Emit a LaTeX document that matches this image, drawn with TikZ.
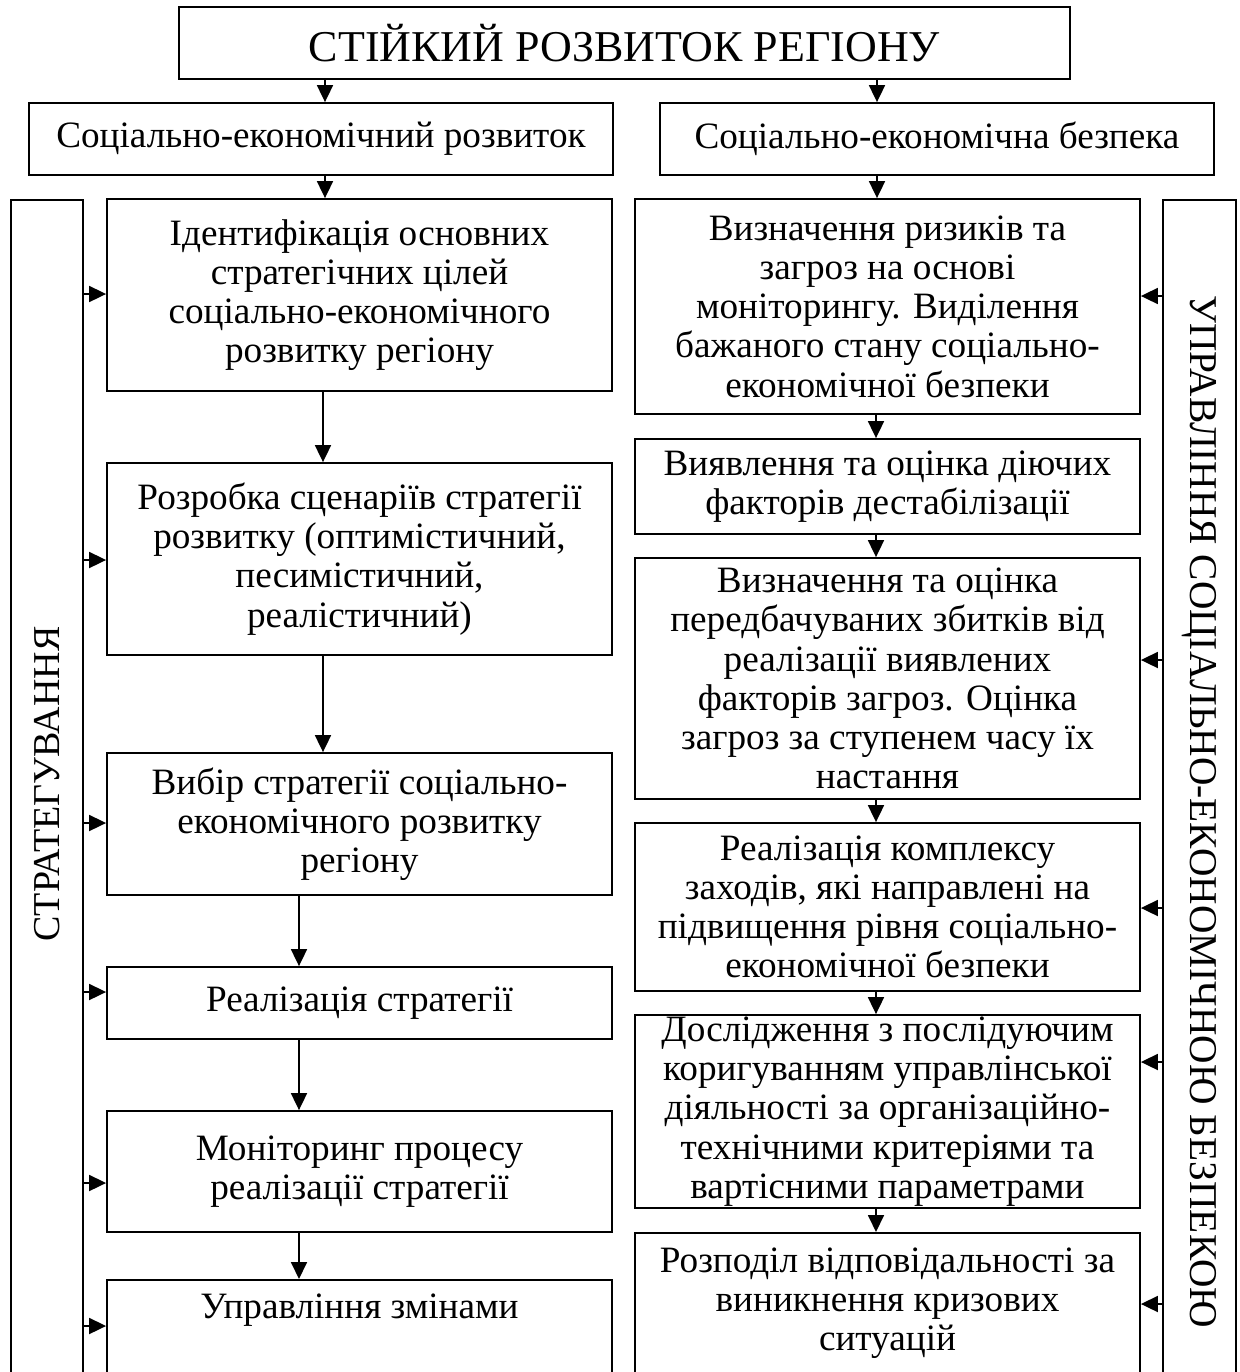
\documentclass[tikz,border=0pt]{standalone}
\usepackage{fontspec}
\setmainfont{Liberation Serif}
\usetikzlibrary{arrows.meta}
\begin{document}
\begin{tikzpicture}[x=0.5pt,y=-0.5pt,
  box/.style={draw,line width=0.9pt,inner sep=0pt,align=center,
    font=\fontsize{18.6}{19.6}\selectfont},
  lbox/.style={box,minimum width=252.5pt},
  arr/.style={line width=0.9pt,-{Triangle[length=8.5pt,width=8pt]}},
  txt/.style={font=\fontsize{18.6}{19.6}\selectfont,align=center,inner sep=0pt}]
\useasboundingbox (0,0) rectangle (1240,1372);
\clip (0,0) rectangle (1240,1372);
% top
\node[box,minimum width=445.5pt,minimum height=36pt,font=\fontsize{22}{24}\selectfont] (top) at (624.5,43) {СТІЙКИЙ РОЗВИТОК РЕГІОНУ};
\node[box,minimum width=292pt,minimum height=36pt] (socL) at (321,139) {Соціально-економічний розвиток};
\node[box,minimum width=277pt,minimum height=36pt] (socR) at (937,139) {Соціально-економічна безпека};
% side columns
\node[box,minimum width=36pt,minimum height=620.5pt,anchor=north] (lcol) at (47,199) {};
\node[box,minimum width=36.5pt,minimum height=620.5pt,anchor=north] (rcol) at (1199.5,199) {};
\node[txt,rotate=90,font=\fontsize{19}{20}\selectfont] (ltxt) at (47,784) {СТРАТЕГУВАННЯ};
\node[txt,rotate=-90,font=\fontsize{19.7}{20}\selectfont] (rtxt) at (1199.5,812) {УПРАВЛІННЯ СОЦІАЛЬНО-ЕКОНОМІЧНОЮ БЕЗПЕКОЮ};
% left column
\node[lbox,minimum height=96pt] (ident) at (359.5,295) {Ідентифікація основних\\стратегічних цілей\\соціально-економічного\\розвитку регіону};
\node[lbox,minimum height=96pt] (rozr) at (359.5,559) {Розробка сценаріїв стратегії\\розвитку (оптимістичний,\\песимістичний,\\реалістичний)};
\node[lbox,minimum height=71pt] (vybir) at (359.5,824) {Вибір стратегії соціально-\\економічного розвитку\\регіону};
\node[lbox,minimum height=36pt] (real) at (359.5,1003) {Реалізація стратегії};
\node[lbox,minimum height=60.5pt] (moni) at (359.5,1171.5) {Моніторинг процесу\\реалізації стратегії};
\node[lbox,minimum height=80.5pt,anchor=north] (upr) at (359.5,1279) {};
\node[txt] (uprtxt) at (359.5,1310) {Управління змінами};
% right column
\node[lbox,minimum height=107.5pt] (vyzn) at (887.5,306.5) {Визначення ризиків та\\загроз на основі\\моніторингу. Виділення\\бажаного стану соціально-\\економічної безпеки};
\node[lbox,minimum height=47.5pt] (viyav) at (887.5,486.5) {Виявлення та оцінка діючих\\факторів дестабілізації};
\node[lbox,minimum height=120.5pt] (vyzn2) at (887.5,678.5) {Визначення та оцінка\\передбачуваних збитків від\\реалізації виявлених\\факторів загроз. Оцінка\\загроз за ступенем часу їх\\настання};
\node[lbox,minimum height=84pt] (realk) at (887.5,907) {Реалізація комплексу\\заходів, які направлені на\\підвищення рівня соціально-\\економічної безпеки};
\node[lbox,minimum height=96.5pt] (dosl) at (887.5,1111.5) {Дослідження з послідуючим\\коригуванням управлінської\\діяльності за організаційно-\\технічними критеріями та\\вартісними параметрами};
\node[lbox,minimum height=80.5pt,anchor=north] (rozp) at (887.5,1232) {};
\node[txt] (rozptxt) at (887.5,1303) {Розподіл відповідальності за\\виникнення кризових\\ситуацій};
% vertical arrows
\draw[arr] (top.south -| 325,0) -- (socL.north -| 325,0);
\draw[arr] (top.south -| 877,0) -- (socR.north -| 877,0);
\draw[arr] (socL.south -| 325,0) -- (ident.north -| 325,0);
\draw[arr] (socR.south -| 877,0) -- (vyzn.north -| 877,0);
\draw[arr] (ident.south -| 323,0) -- (rozr.north -| 323,0);
\draw[arr] (rozr.south -| 323,0) -- (vybir.north -| 323,0);
\draw[arr] (vybir.south -| 299,0) -- (real.north -| 299,0);
\draw[arr] (real.south -| 299,0) -- (moni.north -| 299,0);
\draw[arr] (moni.south -| 299,0) -- (upr.north -| 299,0);
\draw[arr] (vyzn.south -| 876,0) -- (viyav.north -| 876,0);
\draw[arr] (viyav.south -| 876,0) -- (vyzn2.north -| 876,0);
\draw[arr] (vyzn2.south -| 876,0) -- (realk.north -| 876,0);
\draw[arr] (realk.south -| 876,0) -- (dosl.north -| 876,0);
\draw[arr] (dosl.south -| 876,0) -- (rozp.north -| 876,0);
% side arrows left
\draw[arr] (lcol.east |- 0,294) -- (ident.west |- 0,294);
\draw[arr] (lcol.east |- 0,560) -- (rozr.west |- 0,560);
\draw[arr] (lcol.east |- 0,823) -- (vybir.west |- 0,823);
\draw[arr] (lcol.east |- 0,992) -- (real.west |- 0,992);
\draw[arr] (lcol.east |- 0,1183) -- (moni.west |- 0,1183);
\draw[arr] (lcol.east |- 0,1326) -- (upr.west |- 0,1326);
% side arrows right
\draw[arr] (rcol.west |- 0,296) -- (vyzn.east |- 0,296);
\draw[arr] (rcol.west |- 0,660) -- (vyzn2.east |- 0,660);
\draw[arr] (rcol.west |- 0,908) -- (realk.east |- 0,908);
\draw[arr] (rcol.west |- 0,1062) -- (dosl.east |- 0,1062);
\draw[arr] (rcol.west |- 0,1304) -- (rozp.east |- 0,1304);
\end{tikzpicture}
\end{document}
